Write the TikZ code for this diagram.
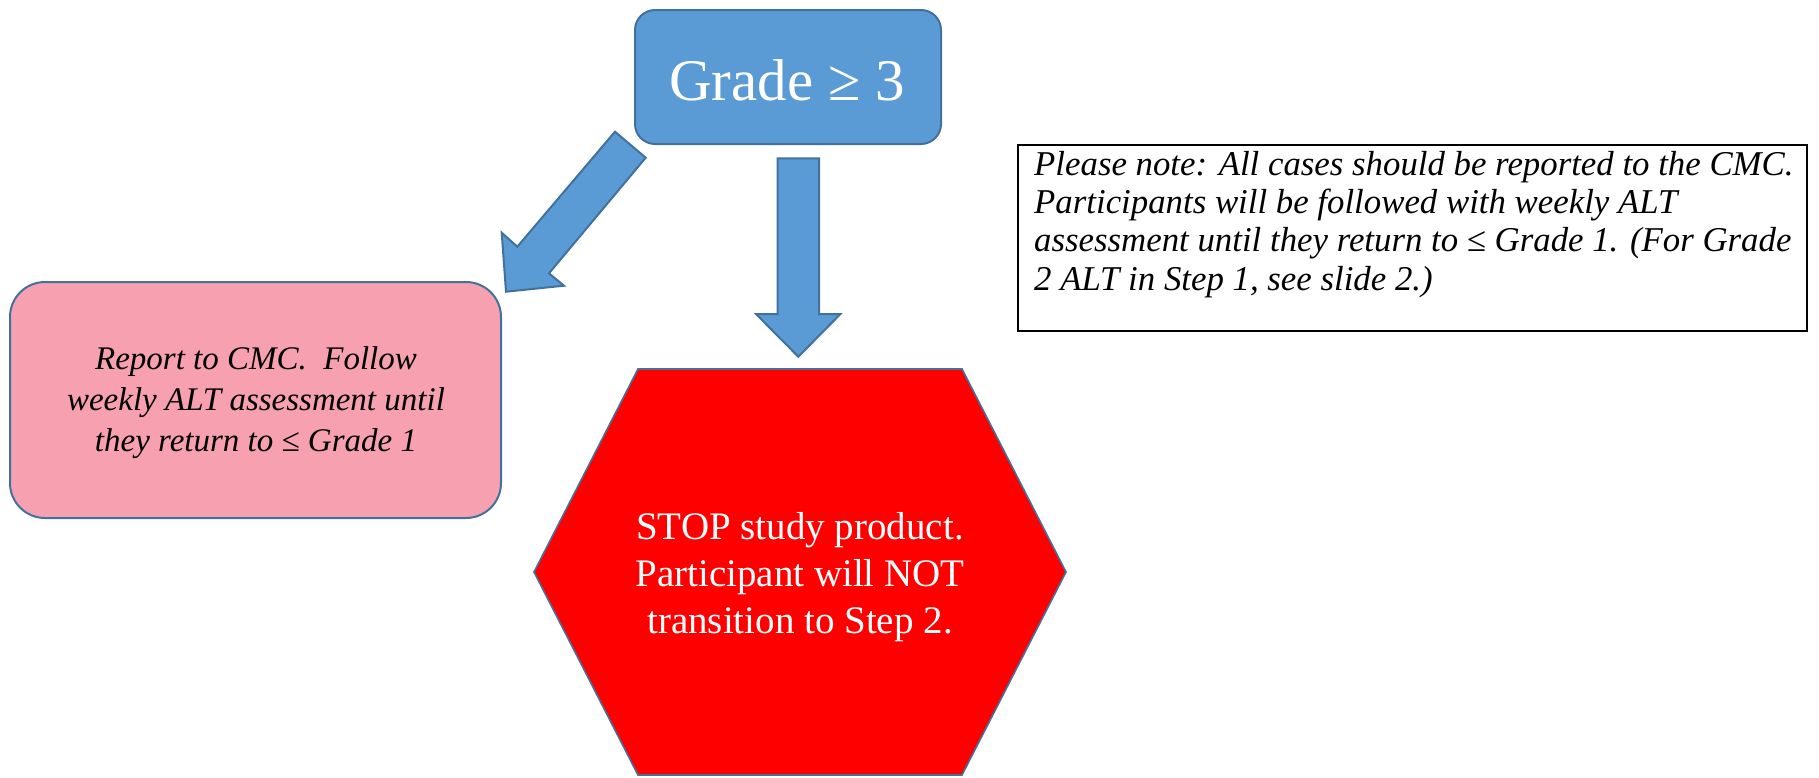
\documentclass[tikz,border=0pt]{standalone}
\usepackage{fontspec}
\setmainfont{Liberation Serif}
\definecolor{blueFill}{RGB}{91,155,213}
\definecolor{blueEdge}{RGB}{65,113,156}
\definecolor{pinkFill}{RGB}{247,161,176}
\definecolor{stopRed}{RGB}{255,0,0}
\begin{document}
\begin{tikzpicture}[x=1pt,y=-1pt,
  blueshape/.style={fill=blueFill,draw=blueEdge,line width=2pt,line join=miter},
  pinkshape/.style={fill=pinkFill,draw=blueEdge,line width=2pt},
  stopshape/.style={fill=stopRed,draw=blueEdge,line width=1.6pt},
  notebox/.style={fill=white,draw=black,line width=2.4pt},
  boxtext/.style={inner sep=0pt,align=center},
]
\useasboundingbox (0,0) rectangle (1819,777);

% decision box
\draw[blueshape,rounded corners=20pt] (635,10) rectangle (941,144);
\node[boxtext,text=white,font=\fontsize{59}{70}\selectfont] (grade) at (787,80.5) {Grade ≥ 3};

% block arrow towards the reporting box
\coordinate (la1) at (615,131.7);
\coordinate (la2) at (645.7,157.7);
\coordinate (lb2) at (549,273.3);
\coordinate (lw2) at (564,285.7);
\coordinate (ltip) at (506,291.7);
\coordinate (lw1) at (501.7,232.7);
\coordinate (lb1) at (517.3,246.7);
\draw[blueshape] (la1) -- (la2) -- (lb2) -- (lw2) -- (ltip) -- (lw1) -- (lb1) -- cycle;

% block arrow towards the stop sign
\coordinate (da1) at (777.5,158.3);
\coordinate (da2) at (819,158.3);
\coordinate (db2) at (819,314);
\coordinate (dw2) at (840.5,314);
\coordinate (dtip) at (798.3,356.7);
\coordinate (dw1) at (756,314);
\coordinate (db1) at (777.5,314);
\draw[blueshape] (da1) -- (da2) -- (db2) -- (dw2) -- (dtip) -- (dw1) -- (db1) -- cycle;

% reporting box
\draw[pinkshape,rounded corners=35pt] (10,282) rectangle (501,518);
\node[boxtext,font=\itshape\fontsize{33}{41}\selectfont] (report) at (256,403)
  {Report to CMC.\ \ Follow\\weekly ALT assessment until\\they return to ≤ Grade 1};

% stop sign
\draw[stopshape] (638,369) -- (962,369) -- (1066,572) -- (962,775) -- (638,775) -- (534,572) -- cycle;
\node[boxtext,text=white,font=\fontsize{39}{46.7}\selectfont] (stop) at (800,577)
  {STOP study product.\\Participant will NOT\\transition to Step 2.};

% note
\draw[notebox] (1018,145) rectangle (1807,331);
\node[inner sep=0pt,align=left,anchor=north west,font=\itshape\fontsize{34.8}{38.3}\selectfont] (note) at (1034,151)
  {Please note: All cases should be reported to the CMC.\\
   Participants will be followed with weekly ALT\\
   assessment until they return to ≤ Grade 1. (For Grade\\
   2 ALT in Step 1, see slide 2.)};
\end{tikzpicture}
\end{document}
